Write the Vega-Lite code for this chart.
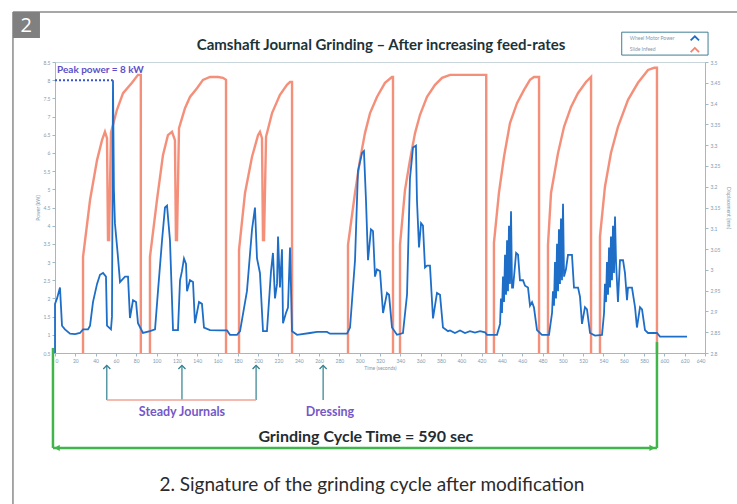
{
  "$schema": "https://vega.github.io/schema/vega-lite/v6.json",
  "width": 650,
  "height": 291,
  "autosize": {"type": "none"},
  "padding": {"left": 55, "top": 62, "right": 32, "bottom": 151},
  "background": "white",
  "config": {
    "view": {"stroke": "#c9d6dc", "strokeWidth": 1},
    "font": "Lato",
    "axis": {"labelFontSize": 5, "labelColor": "#7f9bb0", "domainColor": "#9fb9c6", "tickColor": "#9fb9c6", "tickSize": 3, "grid": false, "titleFontSize": 5, "titleColor": "#7f9bb0", "titleFontWeight": "normal", "labelFont": "Lato", "titleFont": "Lato", "labelPadding": 2}
  },
  "datasets": {
    "power": [
      {"t":0,"kW":0.5},{"t":0,"kW":1.85},{"t":2,"kW":2.0},{"t":4.9,"kW":2.3},{"t":6.9,"kW":1.25},{"t":9.8,"kW":1.15},{"t":14.8,"kW":1.03},{"t":19.7,"kW":1.02},{"t":24.6,"kW":1.05},{"t":27.6,"kW":1.15},{"t":32.5,"kW":1.15},{"t":34.5,"kW":1.25},{"t":37.4,"kW":1.9},{"t":41.4,"kW":2.4},{"t":44.3,"kW":2.65},{"t":47.3,"kW":2.7},{"t":50.2,"kW":2.6},{"t":51.2,"kW":1.25},{"t":55.1,"kW":1.15},{"t":56.1,"kW":1.5},{"t":57.1,"kW":8.0},{"t":58,"kW":5.0},{"t":59,"kW":4.07},{"t":62,"kW":3.14},{"t":64,"kW":2.45},{"t":68.9,"kW":2.6},{"t":71.9,"kW":2.6},{"t":73.8,"kW":1.46},{"t":76.8,"kW":1.95},{"t":79.8,"kW":1.9},{"t":81.7,"kW":1.32},{"t":86.6,"kW":1.05},{"t":93.5,"kW":1.1},{"t":98.5,"kW":1.15},{"t":101.4,"kW":2.2},{"t":105.4,"kW":3.6},{"t":108.3,"kW":4.5},{"t":110.3,"kW":4.55},{"t":113.2,"kW":3.6},{"t":116.2,"kW":1.13},{"t":121.1,"kW":1.13},{"t":123.1,"kW":2.5},{"t":125,"kW":2.75},{"t":127,"kW":3.1},{"t":129,"kW":2.95},{"t":130,"kW":2.2},{"t":132.9,"kW":2.5},{"t":135.9,"kW":2.45},{"t":137.8,"kW":1.32},{"t":141.8,"kW":1.9},{"t":144.7,"kW":1.85},{"t":146.7,"kW":1.2},{"t":152.6,"kW":1.13},{"t":162.5,"kW":1.12},{"t":169.4,"kW":1.12},{"t":172.3,"kW":1.0},{"t":179.2,"kW":1.0},{"t":182.2,"kW":1.1},{"t":189,"kW":2.2},{"t":194,"kW":3.9},{"t":196.9,"kW":4.5},{"t":198.9,"kW":3.1},{"t":201.8,"kW":2.7},{"t":204.8,"kW":1.1},{"t":208.7,"kW":1.1},{"t":212.7,"kW":2.75},{"t":214.6,"kW":3.25},{"t":216.6,"kW":2.0},{"t":218.6,"kW":2.4},{"t":219.6,"kW":3.7},{"t":221.5,"kW":2.3},{"t":223.5,"kW":3.35},{"t":224.5,"kW":1.32},{"t":227.4,"kW":1.6},{"t":229.4,"kW":1.75},{"t":231.4,"kW":3.4},{"t":233.4,"kW":1.1},{"t":238.3,"kW":1.0},{"t":251.1,"kW":1.05},{"t":258,"kW":1.08},{"t":267.8,"kW":1.08},{"t":270.8,"kW":1.03},{"t":287.5,"kW":1.03},{"t":290.5,"kW":1.2},{"t":295.4,"kW":3.05},{"t":298.3,"kW":5.5},{"t":302.3,"kW":6.0},{"t":304.2,"kW":6.05},{"t":306.2,"kW":4.7},{"t":308.2,"kW":3.05},{"t":311.1,"kW":3.9},{"t":313.1,"kW":3.85},{"t":315.1,"kW":2.6},{"t":317,"kW":2.8},{"t":320,"kW":2.75},{"t":323,"kW":1.6},{"t":326.9,"kW":2.15},{"t":328.9,"kW":2.1},{"t":331.8,"kW":1.2},{"t":336.7,"kW":1.0},{"t":342.6,"kW":1.05},{"t":346.6,"kW":2.1},{"t":349.5,"kW":5.3},{"t":352.5,"kW":6.15},{"t":355.4,"kW":6.2},{"t":356.4,"kW":4.7},{"t":358.4,"kW":3.4},{"t":360.4,"kW":4.07},{"t":362.3,"kW":4.0},{"t":364.3,"kW":2.85},{"t":366.3,"kW":2.9},{"t":369.2,"kW":2.9},{"t":372.2,"kW":1.45},{"t":376.1,"kW":2.15},{"t":379.1,"kW":2.1},{"t":382,"kW":1.2},{"t":387,"kW":1.1},{"t":388.9,"kW":1.12},{"t":393.8,"kW":1.05},{"t":398.8,"kW":1.12},{"t":403.7,"kW":1.05},{"t":408.6,"kW":1.1},{"t":413.5,"kW":1.06},{"t":418.5,"kW":1.1},{"t":423.4,"kW":1.07},{"t":425.4,"kW":1.0},{"t":435.2,"kW":1.0},{"t":438.2,"kW":1.3},{"t":439.1,"kW":2.0},{"t":440.1,"kW":1.6},{"t":441.1,"kW":2.6},{"t":442.1,"kW":1.9},{"t":443.1,"kW":3.2},{"t":444.1,"kW":2.1},{"t":445.1,"kW":3.6},{"t":446,"kW":2.2},{"t":447,"kW":4.0},{"t":448,"kW":2.4},{"t":449,"kW":4.4},{"t":450,"kW":2.3},{"t":451,"kW":2.3},{"t":454,"kW":3.25},{"t":455.9,"kW":3.2},{"t":457.8,"kW":2.5},{"t":460.8,"kW":2.5},{"t":462.8,"kW":2.35},{"t":465.7,"kW":2.3},{"t":467.7,"kW":1.8},{"t":469.7,"kW":1.9},{"t":471.6,"kW":1.75},{"t":474.6,"kW":1.13},{"t":479.5,"kW":1.0},{"t":486.4,"kW":1.0},{"t":489.4,"kW":1.6},{"t":490.3,"kW":2.2},{"t":491.3,"kW":1.8},{"t":492.3,"kW":3.0},{"t":493.3,"kW":2.0},{"t":494.3,"kW":3.5},{"t":495.3,"kW":2.2},{"t":496.2,"kW":3.9},{"t":497.2,"kW":2.4},{"t":498.2,"kW":4.2},{"t":499.2,"kW":2.5},{"t":500.2,"kW":4.6},{"t":501.2,"kW":2.6},{"t":503.1,"kW":2.8},{"t":505.1,"kW":3.2},{"t":509,"kW":3.2},{"t":511,"kW":2.3},{"t":515,"kW":2.3},{"t":516.9,"kW":2.05},{"t":518.9,"kW":1.3},{"t":521.8,"kW":1.76},{"t":523.8,"kW":1.7},{"t":526.8,"kW":1.05},{"t":531.7,"kW":0.98},{"t":538.6,"kW":1.0},{"t":540.6,"kW":1.6},{"t":541.5,"kW":2.4},{"t":542.5,"kW":1.9},{"t":543.5,"kW":3.0},{"t":544.5,"kW":2.1},{"t":545.5,"kW":3.4},{"t":546.5,"kW":2.3},{"t":547.4,"kW":3.7},{"t":548.4,"kW":2.5},{"t":549.4,"kW":4.0},{"t":550.4,"kW":2.7},{"t":551.4,"kW":4.25},{"t":552.4,"kW":3.0},{"t":554.3,"kW":1.9},{"t":556.3,"kW":3.05},{"t":559.3,"kW":3.05},{"t":561.2,"kW":2.7},{"t":563.2,"kW":1.95},{"t":564.2,"kW":2.3},{"t":568.1,"kW":2.3},{"t":571.1,"kW":1.76},{"t":573,"kW":1.2},{"t":576,"kW":1.76},{"t":578,"kW":1.7},{"t":580.9,"kW":1.13},{"t":583.9,"kW":1.05},{"t":592.7,"kW":1.05},{"t":595.7,"kW":0.95},{"t":622.3,"kW":0.95}
    ],
    "infeed": [
      {"t":0,"mm":2.7},{"t":27.6,"mm":2.7},{"t":27.6,"mm":3.031},{"t":34.5,"mm":3.168},{"t":41.4,"mm":3.264},{"t":46.3,"mm":3.312},{"t":49.2,"mm":3.332},{"t":51.2,"mm":3.317},{"t":52.2,"mm":3.072},{"t":53.2,"mm":3.072},{"t":55.1,"mm":3.33},{"t":61,"mm":3.385},{"t":67,"mm":3.425},{"t":75.8,"mm":3.45},{"t":81.7,"mm":3.469},{"t":84.5,"mm":3.469},{"t":84.5,"mm":2.7},
      {"t":93.5,"mm":2.7},{"t":93.5,"mm":3.031},{"t":100.4,"mm":3.168},{"t":106.3,"mm":3.276},{"t":111.2,"mm":3.324},{"t":115.2,"mm":3.332},{"t":118.1,"mm":3.312},{"t":119.1,"mm":3.072},{"t":120.1,"mm":3.072},{"t":122.1,"mm":3.341},{"t":128,"mm":3.389},{"t":132.9,"mm":3.416},{"t":139.8,"mm":3.437},{"t":145.7,"mm":3.457},{"t":152.6,"mm":3.464},{"t":160.5,"mm":3.464},{"t":165.4,"mm":3.462},{"t":168.4,"mm":3.457},{"t":168.4,"mm":2.7},
      {"t":181.2,"mm":2.7},{"t":181.2,"mm":3.048},{"t":187.1,"mm":3.185},{"t":194,"mm":3.272},{"t":199.9,"mm":3.324},{"t":201.8,"mm":3.332},{"t":203.8,"mm":3.317},{"t":204.8,"mm":3.072},{"t":205.8,"mm":3.072},{"t":207.8,"mm":3.32},{"t":213.7,"mm":3.377},{"t":221.5,"mm":3.421},{"t":228.4,"mm":3.445},{"t":231.4,"mm":3.452},{"t":233.4,"mm":3.452},{"t":233.4,"mm":2.7},
      {"t":288.5,"mm":2.7},{"t":288.5,"mm":3.06},{"t":295.4,"mm":3.185},{"t":300.3,"mm":3.264},{"t":305.2,"mm":3.329},{"t":310.2,"mm":3.377},{"t":317,"mm":3.416},{"t":324.9,"mm":3.45},{"t":331.8,"mm":3.464},{"t":332.8,"mm":3.464},{"t":332.8,"mm":2.7},
      {"t":339.7,"mm":2.7},{"t":339.7,"mm":3.06},{"t":344.6,"mm":3.192},{"t":349.5,"mm":3.264},{"t":354.5,"mm":3.329},{"t":359.4,"mm":3.373},{"t":366.3,"mm":3.416},{"t":374.2,"mm":3.445},{"t":381.1,"mm":3.462},{"t":389,"mm":3.469},{"t":424.6,"mm":3.469},{"t":424.6,"mm":2.7},
      {"t":432.2,"mm":2.7},{"t":432.2,"mm":3.065},{"t":437.1,"mm":3.185},{"t":442.1,"mm":3.272},{"t":448,"mm":3.353},{"t":454.9,"mm":3.401},{"t":461.8,"mm":3.433},{"t":467.7,"mm":3.457},{"t":471.6,"mm":3.464},{"t":476.6,"mm":3.464},{"t":476.6,"mm":2.7},
      {"t":485.4,"mm":2.7},{"t":485.4,"mm":3.06},{"t":488.4,"mm":3.185},{"t":495.3,"mm":3.281},{"t":501.2,"mm":3.344},{"t":508.1,"mm":3.392},{"t":514.9,"mm":3.425},{"t":522.8,"mm":3.452},{"t":527.8,"mm":3.464},{"t":527.8,"mm":2.7},
      {"t":536.6,"mm":2.7},{"t":536.6,"mm":3.08},{"t":541.5,"mm":3.2},{"t":547.4,"mm":3.281},{"t":554.3,"mm":3.344},{"t":564.2,"mm":3.409},{"t":574,"mm":3.45},{"t":583.9,"mm":3.481},{"t":590,"mm":3.486},{"t":592.7,"mm":3.486},{"t":592.7,"mm":2.7},{"t":640,"mm":2.7}
    ]
  },
  "layer": [
    {
      "data": {"name": "infeed"},
      "mark": {"type": "line", "color": "#f3836c", "strokeWidth": 2.4, "opacity": 0.9, "clip": true},
      "encoding": {
        "x": {"field": "t", "type": "quantitative", "title": "Time (seconds)", "scale": {"domain": [0, 640], "nice": false, "zero": false},
              "axis": {"title": "Time (seconds)", "values": [0,20,40,60,80,100,120,140,160,180,200,220,240,260,280,300,320,340,360,380,400,420,440,460,480,500,520,540,560,580,600,620,640], "format": "d", "titlePadding": 2}},
        "y": {"field": "mm", "type": "quantitative", "scale": {"domain": [2.8, 3.5], "nice": false, "zero": false},
              "axis": {"orient": "right", "title": "Displacement (mm)", "values": [2.8,2.85,2.9,2.95,3,3.05,3.1,3.15,3.2,3.25,3.3,3.35,3.4,3.45,3.5], "format": "~g", "titlePadding": 6}},
        "order": {"value": null}
      }
    },
    {
      "layer": [
        {
          "data": {"name": "power"},
          "mark": {"type": "line", "color": "#1e6ec8", "strokeWidth": 1.8},
          "encoding": {
            "x": {"field": "t", "type": "quantitative", "title": "Time (seconds)", "scale": {"domain": [0, 640], "nice": false, "zero": false},
                  "axis": {"title": "Time (seconds)", "values": [0,20,40,60,80,100,120,140,160,180,200,220,240,260,280,300,320,340,360,380,400,420,440,460,480,500,520,540,560,580,600,620,640], "format": "d", "titlePadding": 2}},
            "y": {"field": "kW", "type": "quantitative", "title": "Power (kW)", "scale": {"domain": [0.5, 8.5], "nice": false, "zero": false},
                  "axis": {"orient": "left", "title": "Power (kW)", "values": [0.5,1,1.5,2,2.5,3,3.5,4,4.5,5,5.5,6,6.5,7,7.5,8,8.5], "format": "~g", "titlePadding": 3}},
            "order": {"value": null}
          }
        },
        {
          "data": {"values": [{"t": 0, "kW": 8}, {"t": 57, "kW": 8}]},
          "mark": {"type": "line", "color": "#3b55c8", "strokeWidth": 2, "strokeDash": [2, 2]},
          "encoding": {
            "x": {"field": "t", "type": "quantitative", "title": "Time (seconds)", "scale": {"domain": [0, 640], "nice": false},
                  "axis": {"title": "Time (seconds)", "values": [0,20,40,60,80,100,120,140,160,180,200,220,240,260,280,300,320,340,360,380,400,420,440,460,480,500,520,540,560,580,600,620,640], "format": "d", "titlePadding": 2}},
            "y": {"field": "kW", "type": "quantitative", "title": "Power (kW)", "scale": {"domain": [0.5, 8.5], "nice": false},
                  "axis": {"orient": "left", "title": "Power (kW)", "values": [0.5,1,1.5,2,2.5,3,3.5,4,4.5,5,5.5,6,6.5,7,7.5,8,8.5], "format": "~g", "titlePadding": 3}}
          }
        },
        {
          "data": {"values": [{"t": 2, "kW": 8.28, "label": "Peak power = 8 kW"}]},
          "mark": {"type": "text", "align": "left", "baseline": "middle", "fontSize": 10, "fontWeight": "bold", "color": "#5a50c8"},
          "encoding": {
            "x": {"field": "t", "type": "quantitative", "title": "Time (seconds)", "scale": {"domain": [0, 640], "nice": false},
                  "axis": {"title": "Time (seconds)", "values": [0,20,40,60,80,100,120,140,160,180,200,220,240,260,280,300,320,340,360,380,400,420,440,460,480,500,520,540,560,580,600,620,640], "format": "d", "titlePadding": 2}},
            "y": {"field": "kW", "type": "quantitative", "title": "Power (kW)", "scale": {"domain": [0.5, 8.5], "nice": false},
                  "axis": {"orient": "left", "title": "Power (kW)", "values": [0.5,1,1.5,2,2.5,3,3.5,4,4.5,5,5.5,6,6.5,7,7.5,8,8.5], "format": "~g", "titlePadding": 3}},
            "text": {"field": "label"}
          }
        },
        {
          "data": {"values": [{"t": 321, "kW": 8.97, "label": "Camshaft Journal Grinding – After increasing feed-rates"}]},
          "mark": {"type": "text", "align": "center", "baseline": "middle", "fontSize": 15, "fontWeight": "bold", "color": "#1c3338"},
          "encoding": {
            "x": {"field": "t", "type": "quantitative", "title": "Time (seconds)", "scale": {"domain": [0, 640], "nice": false},
                  "axis": {"title": "Time (seconds)", "values": [0,20,40,60,80,100,120,140,160,180,200,220,240,260,280,300,320,340,360,380,400,420,440,460,480,500,520,540,560,580,600,620,640], "format": "d", "titlePadding": 2}},
            "y": {"field": "kW", "type": "quantitative", "title": "Power (kW)", "scale": {"domain": [0.5, 8.5], "nice": false},
                  "axis": {"orient": "left", "title": "Power (kW)", "values": [0.5,1,1.5,2,2.5,3,3.5,4,4.5,5,5.5,6,6.5,7,7.5,8,8.5], "format": "~g", "titlePadding": 3}},
            "text": {"field": "label"}
          }
        },
        {
          "data": {"values": [{"t": 558, "t2": 643, "kW": 9.32, "kW2": 8.69}]},
          "mark": {"type": "rect", "fill": "white", "stroke": "#3d7f94", "strokeWidth": 1},
          "encoding": {
            "x": {"field": "t", "type": "quantitative", "title": "Time (seconds)", "scale": {"domain": [0, 640], "nice": false},
                  "axis": {"title": "Time (seconds)", "values": [0,20,40,60,80,100,120,140,160,180,200,220,240,260,280,300,320,340,360,380,400,420,440,460,480,500,520,540,560,580,600,620,640], "format": "d", "titlePadding": 2}},
            "x2": {"field": "t2"},
            "y": {"field": "kW", "type": "quantitative", "title": "Power (kW)", "scale": {"domain": [0.5, 8.5], "nice": false},
                  "axis": {"orient": "left", "title": "Power (kW)", "values": [0.5,1,1.5,2,2.5,3,3.5,4,4.5,5,5.5,6,6.5,7,7.5,8,8.5], "format": "~g", "titlePadding": 3}},
            "y2": {"field": "kW2"}
          }
        },
        {
          "data": {"values": [{"t": 566, "kW": 9.17, "label": "Wheel Motor Power"}, {"t": 566, "kW": 8.86, "label": "Slide Infeed"}]},
          "mark": {"type": "text", "align": "left", "baseline": "middle", "fontSize": 5, "color": "#7f9bb0"},
          "encoding": {
            "x": {"field": "t", "type": "quantitative", "title": "Time (seconds)", "scale": {"domain": [0, 640], "nice": false},
                  "axis": {"title": "Time (seconds)", "values": [0,20,40,60,80,100,120,140,160,180,200,220,240,260,280,300,320,340,360,380,400,420,440,460,480,500,520,540,560,580,600,620,640], "format": "d", "titlePadding": 2}},
            "y": {"field": "kW", "type": "quantitative", "title": "Power (kW)", "scale": {"domain": [0.5, 8.5], "nice": false},
                  "axis": {"orient": "left", "title": "Power (kW)", "values": [0.5,1,1.5,2,2.5,3,3.5,4,4.5,5,5.5,6,6.5,7,7.5,8,8.5], "format": "~g", "titlePadding": 3}},
            "text": {"field": "label"}
          }
        },
        {
          "data": {"values": [{"t": 630, "kW": 9.15}]},
          "mark": {"type": "point", "shape": "M -1 0.5 L 0 -0.5 L 1 0.5", "filled": false, "size": 70, "strokeWidth": 1.8, "color": "#1e6ec8", "opacity": 1},
          "encoding": {
            "x": {"field": "t", "type": "quantitative", "title": "Time (seconds)", "scale": {"domain": [0, 640], "nice": false},
                  "axis": {"title": "Time (seconds)", "values": [0,20,40,60,80,100,120,140,160,180,200,220,240,260,280,300,320,340,360,380,400,420,440,460,480,500,520,540,560,580,600,620,640], "format": "d", "titlePadding": 2}},
            "y": {"field": "kW", "type": "quantitative", "title": "Power (kW)", "scale": {"domain": [0.5, 8.5], "nice": false},
                  "axis": {"orient": "left", "title": "Power (kW)", "values": [0.5,1,1.5,2,2.5,3,3.5,4,4.5,5,5.5,6,6.5,7,7.5,8,8.5], "format": "~g", "titlePadding": 3}}
          }
        },
        {
          "data": {"values": [{"t": 630, "kW": 8.83}]},
          "mark": {"type": "point", "shape": "M -1 0.5 L 0 -0.5 L 1 0.5", "filled": false, "size": 70, "strokeWidth": 1.8, "color": "#f3836c", "opacity": 1},
          "encoding": {
            "x": {"field": "t", "type": "quantitative", "title": "Time (seconds)", "scale": {"domain": [0, 640], "nice": false},
                  "axis": {"title": "Time (seconds)", "values": [0,20,40,60,80,100,120,140,160,180,200,220,240,260,280,300,320,340,360,380,400,420,440,460,480,500,520,540,560,580,600,620,640], "format": "d", "titlePadding": 2}},
            "y": {"field": "kW", "type": "quantitative", "title": "Power (kW)", "scale": {"domain": [0.5, 8.5], "nice": false},
                  "axis": {"orient": "left", "title": "Power (kW)", "values": [0.5,1,1.5,2,2.5,3,3.5,4,4.5,5,5.5,6,6.5,7,7.5,8,8.5], "format": "~g", "titlePadding": 3}}
          }
        },
        {
          "data": {"values": [{"t": 51, "kW": 0.15, "kW2": -0.79}, {"t": 125, "kW": 0.15, "kW2": -0.79}, {"t": 198, "kW": 0.15, "kW2": -0.79}, {"t": 264, "kW": 0.15, "kW2": -0.79}]},
          "mark": {"type": "rule", "color": "#2f7f8f", "strokeWidth": 1.2},
          "encoding": {
            "x": {"field": "t", "type": "quantitative", "title": "Time (seconds)", "scale": {"domain": [0, 640], "nice": false},
                  "axis": {"title": "Time (seconds)", "values": [0,20,40,60,80,100,120,140,160,180,200,220,240,260,280,300,320,340,360,380,400,420,440,460,480,500,520,540,560,580,600,620,640], "format": "d", "titlePadding": 2}},
            "y": {"field": "kW", "type": "quantitative", "title": "Power (kW)", "scale": {"domain": [0.5, 8.5], "nice": false},
                  "axis": {"orient": "left", "title": "Power (kW)", "values": [0.5,1,1.5,2,2.5,3,3.5,4,4.5,5,5.5,6,6.5,7,7.5,8,8.5], "format": "~g", "titlePadding": 3}},
            "y2": {"field": "kW2"}
          }
        },
        {
          "data": {"values": [{"t": 51, "kW": 0.12}, {"t": 125, "kW": 0.12}, {"t": 198, "kW": 0.12}, {"t": 264, "kW": 0.12}]},
          "mark": {"type": "point", "shape": "M -1 0.6 L 0 -0.4 L 1 0.6", "filled": false, "size": 50, "strokeWidth": 1.3, "color": "#2f7f8f", "opacity": 1},
          "encoding": {
            "x": {"field": "t", "type": "quantitative", "title": "Time (seconds)", "scale": {"domain": [0, 640], "nice": false},
                  "axis": {"title": "Time (seconds)", "values": [0,20,40,60,80,100,120,140,160,180,200,220,240,260,280,300,320,340,360,380,400,420,440,460,480,500,520,540,560,580,600,620,640], "format": "d", "titlePadding": 2}},
            "y": {"field": "kW", "type": "quantitative", "title": "Power (kW)", "scale": {"domain": [0.5, 8.5], "nice": false},
                  "axis": {"orient": "left", "title": "Power (kW)", "values": [0.5,1,1.5,2,2.5,3,3.5,4,4.5,5,5.5,6,6.5,7,7.5,8,8.5], "format": "~g", "titlePadding": 3}}
          }
        },
        {
          "data": {"values": [{"t": 51, "t2": 198, "kW": -0.79}]},
          "mark": {"type": "rule", "color": "#f2a394", "strokeWidth": 1.5},
          "encoding": {
            "x": {"field": "t", "type": "quantitative", "title": "Time (seconds)", "scale": {"domain": [0, 640], "nice": false},
                  "axis": {"title": "Time (seconds)", "values": [0,20,40,60,80,100,120,140,160,180,200,220,240,260,280,300,320,340,360,380,400,420,440,460,480,500,520,540,560,580,600,620,640], "format": "d", "titlePadding": 2}},
            "x2": {"field": "t2"},
            "y": {"field": "kW", "type": "quantitative", "title": "Power (kW)", "scale": {"domain": [0.5, 8.5], "nice": false},
                  "axis": {"orient": "left", "title": "Power (kW)", "values": [0.5,1,1.5,2,2.5,3,3.5,4,4.5,5,5.5,6,6.5,7,7.5,8,8.5], "format": "~g", "titlePadding": 3}}
          }
        },
        {
          "data": {"values": [{"t": 125, "kW": -1.12, "label": "Steady Journals"}, {"t": 270.8, "kW": -1.12, "label": "Dressing"}]},
          "mark": {"type": "text", "align": "center", "baseline": "middle", "fontSize": 12.5, "fontWeight": "bold", "color": "#7558c8"},
          "encoding": {
            "x": {"field": "t", "type": "quantitative", "title": "Time (seconds)", "scale": {"domain": [0, 640], "nice": false},
                  "axis": {"title": "Time (seconds)", "values": [0,20,40,60,80,100,120,140,160,180,200,220,240,260,280,300,320,340,360,380,400,420,440,460,480,500,520,540,560,580,600,620,640], "format": "d", "titlePadding": 2}},
            "y": {"field": "kW", "type": "quantitative", "title": "Power (kW)", "scale": {"domain": [0.5, 8.5], "nice": false},
                  "axis": {"orient": "left", "title": "Power (kW)", "values": [0.5,1,1.5,2,2.5,3,3.5,4,4.5,5,5.5,6,6.5,7,7.5,8,8.5], "format": "~g", "titlePadding": 3}},
            "text": {"field": "label"}
          }
        },
        {
          "data": {"values": [
            {"t": -2, "t2": -2, "kW": 0.64, "kW2": -2.11},
            {"t": -2, "t2": 592.7, "kW": -2.11, "kW2": -2.11},
            {"t": 592.7, "t2": 592.7, "kW": 0.8, "kW2": -2.11}
          ]},
          "mark": {"type": "rule", "color": "#3fb54a", "strokeWidth": 2.5},
          "encoding": {
            "x": {"field": "t", "type": "quantitative", "title": "Time (seconds)", "scale": {"domain": [0, 640], "nice": false},
                  "axis": {"title": "Time (seconds)", "values": [0,20,40,60,80,100,120,140,160,180,200,220,240,260,280,300,320,340,360,380,400,420,440,460,480,500,520,540,560,580,600,620,640], "format": "d", "titlePadding": 2}},
            "x2": {"field": "t2"},
            "y": {"field": "kW", "type": "quantitative", "title": "Power (kW)", "scale": {"domain": [0.5, 8.5], "nice": false},
                  "axis": {"orient": "left", "title": "Power (kW)", "values": [0.5,1,1.5,2,2.5,3,3.5,4,4.5,5,5.5,6,6.5,7,7.5,8,8.5], "format": "~g", "titlePadding": 3}},
            "y2": {"field": "kW2"}
          }
        },
        {
          "data": {"values": [{"t": 2, "kW": -2.11}]},
          "mark": {"type": "point", "shape": "triangle-left", "filled": true, "size": 40, "color": "#3fb54a", "opacity": 1},
          "encoding": {
            "x": {"field": "t", "type": "quantitative", "title": "Time (seconds)", "scale": {"domain": [0, 640], "nice": false},
                  "axis": {"title": "Time (seconds)", "values": [0,20,40,60,80,100,120,140,160,180,200,220,240,260,280,300,320,340,360,380,400,420,440,460,480,500,520,540,560,580,600,620,640], "format": "d", "titlePadding": 2}},
            "y": {"field": "kW", "type": "quantitative", "title": "Power (kW)", "scale": {"domain": [0.5, 8.5], "nice": false},
                  "axis": {"orient": "left", "title": "Power (kW)", "values": [0.5,1,1.5,2,2.5,3,3.5,4,4.5,5,5.5,6,6.5,7,7.5,8,8.5], "format": "~g", "titlePadding": 3}}
          }
        },
        {
          "data": {"values": [{"t": 588, "kW": -2.11}]},
          "mark": {"type": "point", "shape": "triangle-right", "filled": true, "size": 40, "color": "#3fb54a", "opacity": 1},
          "encoding": {
            "x": {"field": "t", "type": "quantitative", "title": "Time (seconds)", "scale": {"domain": [0, 640], "nice": false},
                  "axis": {"title": "Time (seconds)", "values": [0,20,40,60,80,100,120,140,160,180,200,220,240,260,280,300,320,340,360,380,400,420,440,460,480,500,520,540,560,580,600,620,640], "format": "d", "titlePadding": 2}},
            "y": {"field": "kW", "type": "quantitative", "title": "Power (kW)", "scale": {"domain": [0.5, 8.5], "nice": false},
                  "axis": {"orient": "left", "title": "Power (kW)", "values": [0.5,1,1.5,2,2.5,3,3.5,4,4.5,5,5.5,6,6.5,7,7.5,8,8.5], "format": "~g", "titlePadding": 3}}
          }
        },
        {
          "data": {"values": [{"t": 306, "kW": -1.81, "label": "Grinding Cycle Time = 590 sec"}]},
          "mark": {"type": "text", "align": "center", "baseline": "middle", "fontSize": 16, "fontWeight": "bold", "color": "#1f2d33"},
          "encoding": {
            "x": {"field": "t", "type": "quantitative", "title": "Time (seconds)", "scale": {"domain": [0, 640], "nice": false},
                  "axis": {"title": "Time (seconds)", "values": [0,20,40,60,80,100,120,140,160,180,200,220,240,260,280,300,320,340,360,380,400,420,440,460,480,500,520,540,560,580,600,620,640], "format": "d", "titlePadding": 2}},
            "y": {"field": "kW", "type": "quantitative", "title": "Power (kW)", "scale": {"domain": [0.5, 8.5], "nice": false},
                  "axis": {"orient": "left", "title": "Power (kW)", "values": [0.5,1,1.5,2,2.5,3,3.5,4,4.5,5,5.5,6,6.5,7,7.5,8,8.5], "format": "~g", "titlePadding": 3}},
            "text": {"field": "label"}
          }
        },
        {
          "data": {"values": [{"t": 312, "kW": -3.13, "label": "2. Signature of the grinding cycle after modification"}]},
          "mark": {"type": "text", "align": "center", "baseline": "middle", "fontSize": 19, "fontWeight": "normal", "color": "#2b2b2b"},
          "encoding": {
            "x": {"field": "t", "type": "quantitative", "title": "Time (seconds)", "scale": {"domain": [0, 640], "nice": false},
                  "axis": {"title": "Time (seconds)", "values": [0,20,40,60,80,100,120,140,160,180,200,220,240,260,280,300,320,340,360,380,400,420,440,460,480,500,520,540,560,580,600,620,640], "format": "d", "titlePadding": 2}},
            "y": {"field": "kW", "type": "quantitative", "title": "Power (kW)", "scale": {"domain": [0.5, 8.5], "nice": false},
                  "axis": {"orient": "left", "title": "Power (kW)", "values": [0.5,1,1.5,2,2.5,3,3.5,4,4.5,5,5.5,6,6.5,7,7.5,8,8.5], "format": "~g", "titlePadding": 3}},
            "text": {"field": "label"}
          }
        },
        {
          "data": {"values": [
            {"t": -41.4, "t2": 672, "kW": 9.875, "kW2": 9.875},
            {"t": -41.4, "t2": -41.4, "kW": 9.875, "kW2": -3.8}
          ]},
          "mark": {"type": "rule", "color": "#8a8a8a", "strokeWidth": 1.5},
          "encoding": {
            "x": {"field": "t", "type": "quantitative", "title": "Time (seconds)", "scale": {"domain": [0, 640], "nice": false},
                  "axis": {"title": "Time (seconds)", "values": [0,20,40,60,80,100,120,140,160,180,200,220,240,260,280,300,320,340,360,380,400,420,440,460,480,500,520,540,560,580,600,620,640], "format": "d", "titlePadding": 2}},
            "x2": {"field": "t2"},
            "y": {"field": "kW", "type": "quantitative", "title": "Power (kW)", "scale": {"domain": [0.5, 8.5], "nice": false},
                  "axis": {"orient": "left", "title": "Power (kW)", "values": [0.5,1,1.5,2,2.5,3,3.5,4,4.5,5,5.5,6,6.5,7,7.5,8,8.5], "format": "~g", "titlePadding": 3}},
            "y2": {"field": "kW2"}
          }
        },
        {
          "data": {"values": [{"t": -41.4, "t2": -14.8, "kW": 9.875, "kW2": 9.16}]},
          "mark": {"type": "rect", "fill": "#808080"},
          "encoding": {
            "x": {"field": "t", "type": "quantitative", "title": "Time (seconds)", "scale": {"domain": [0, 640], "nice": false},
                  "axis": {"title": "Time (seconds)", "values": [0,20,40,60,80,100,120,140,160,180,200,220,240,260,280,300,320,340,360,380,400,420,440,460,480,500,520,540,560,580,600,620,640], "format": "d", "titlePadding": 2}},
            "x2": {"field": "t2"},
            "y": {"field": "kW", "type": "quantitative", "title": "Power (kW)", "scale": {"domain": [0.5, 8.5], "nice": false},
                  "axis": {"orient": "left", "title": "Power (kW)", "values": [0.5,1,1.5,2,2.5,3,3.5,4,4.5,5,5.5,6,6.5,7,7.5,8,8.5], "format": "~g", "titlePadding": 3}},
            "y2": {"field": "kW2"}
          }
        },
        {
          "data": {"values": [{"t": -28.3, "kW": 9.5, "label": "2"}]},
          "mark": {"type": "text", "align": "center", "baseline": "middle", "fontSize": 20, "color": "white", "font": "Open Sans"},
          "encoding": {
            "x": {"field": "t", "type": "quantitative", "title": "Time (seconds)", "scale": {"domain": [0, 640], "nice": false},
                  "axis": {"title": "Time (seconds)", "values": [0,20,40,60,80,100,120,140,160,180,200,220,240,260,280,300,320,340,360,380,400,420,440,460,480,500,520,540,560,580,600,620,640], "format": "d", "titlePadding": 2}},
            "y": {"field": "kW", "type": "quantitative", "title": "Power (kW)", "scale": {"domain": [0.5, 8.5], "nice": false},
                  "axis": {"orient": "left", "title": "Power (kW)", "values": [0.5,1,1.5,2,2.5,3,3.5,4,4.5,5,5.5,6,6.5,7,7.5,8,8.5], "format": "~g", "titlePadding": 3}},
            "text": {"field": "label"}
          }
        }
      ]
    }
  ],
  "resolve": {"scale": {"y": "independent"}, "axis": {"y": "independent"}}
}
